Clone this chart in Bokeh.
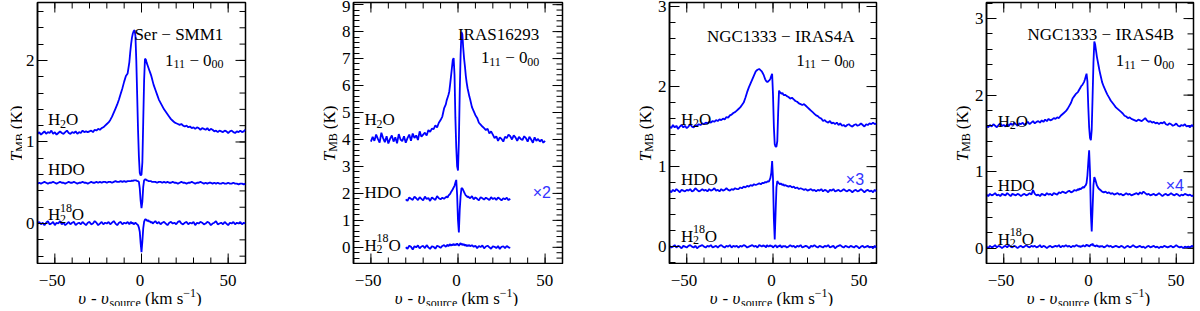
import numpy as np
from bokeh.plotting import figure
from bokeh.layouts import row, column
from bokeh.models import Label, SingleIntervalTicker, Range1d
from bokeh.embed import file_html
from bokeh.resources import INLINE

# ---------------- velocity channels (km/s) ----------------
V_WIDE = np.concatenate([np.arange(-60, -6.5, 1.0), np.arange(-6.5, 7.0, 0.5), np.arange(7, 61, 1.0)])
V_P2_H2O = np.concatenate([np.arange(-50, -6.5, 1.0), np.arange(-6.5, 7.0, 0.5), np.arange(7, 51, 1.0)])
V_P2_NARROW = np.concatenate([np.arange(-30, -6.5, 1.0), np.arange(-6.5, 7.0, 0.5), np.arange(7, 31, 1.0)])

# ---------------- Ser-SMM1 ----------------
SMM1_H2O = [
    1.10, 1.12, 1.09, 1.11, 1.13, 1.10, 1.12, 1.11, 1.14, 1.10,
    1.12, 1.09, 1.11, 1.13, 1.11, 1.10, 1.12, 1.14, 1.11, 1.10,
    1.12, 1.11, 1.13, 1.10, 1.12, 1.11, 1.14, 1.12, 1.13, 1.12,
    1.13, 1.14, 1.12, 1.15, 1.14, 1.16, 1.15, 1.17, 1.18, 1.20,
    1.22, 1.24, 1.27, 1.31, 1.36, 1.41, 1.46, 1.52, 1.59, 1.66,
    1.74, 1.81, 1.84, 1.98,
    2.10, 2.20, 2.28, 2.33, 2.36, 2.37, 2.30, 2.00, 1.58, 1.15, 0.82, 0.62, 0.59, 0.60,
    0.75, 1.25, 1.75, 2.02, 2.01, 1.97, 1.94, 1.91, 1.88, 1.85, 1.82, 1.78, 1.74,
    1.70, 1.64, 1.58, 1.52, 1.48, 1.44, 1.40, 1.37, 1.34, 1.31,
    1.28, 1.26, 1.24, 1.23, 1.22, 1.21, 1.22, 1.20, 1.19, 1.20,
    1.18, 1.19, 1.17, 1.18, 1.16, 1.18, 1.17, 1.15, 1.17, 1.16,
    1.15, 1.17, 1.14, 1.16, 1.15, 1.13, 1.14, 1.12, 1.14, 1.13,
    1.12, 1.14, 1.13, 1.11, 1.13, 1.14, 1.12, 1.11, 1.13, 1.12,
    1.14, 1.12, 1.13, 1.15,
]
SMM1_HDO = [
    0.49, 0.50, 0.49, 0.50, 0.51, 0.50, 0.49, 0.50, 0.50, 0.51,
    0.50, 0.49, 0.50, 0.51, 0.50, 0.50, 0.49, 0.50, 0.51, 0.50,
    0.50, 0.51, 0.50, 0.49, 0.50, 0.50, 0.51, 0.50, 0.50, 0.49,
    0.50, 0.51, 0.50, 0.50, 0.51, 0.50, 0.51, 0.50, 0.51, 0.51,
    0.50, 0.51, 0.51, 0.50, 0.51, 0.52, 0.51, 0.51, 0.52, 0.51,
    0.52, 0.51, 0.52, 0.52,
    0.52, 0.52, 0.53, 0.52, 0.53, 0.53, 0.53, 0.53, 0.52, 0.52, 0.51, 0.43, 0.28, 0.19,
    0.27, 0.45, 0.53, 0.54, 0.54, 0.53, 0.53, 0.52, 0.52, 0.52, 0.52, 0.51, 0.51,
    0.51, 0.51, 0.50, 0.51, 0.51, 0.50, 0.51, 0.50, 0.51, 0.50,
    0.50, 0.51, 0.50, 0.50, 0.49, 0.50, 0.51, 0.50, 0.50, 0.49,
    0.50, 0.50, 0.51, 0.50, 0.49, 0.50, 0.50, 0.51, 0.50, 0.49,
    0.50, 0.49, 0.50, 0.50, 0.49, 0.50, 0.49, 0.50, 0.49, 0.49,
    0.50, 0.49, 0.49, 0.50, 0.49, 0.49, 0.50, 0.49, 0.49, 0.48,
    0.49, 0.49, 0.48, 0.49,
]
SMM1_H218O = [
    0.00, 0.02, -0.01, 0.01, -0.02, 0.01, 0.03, -0.01, 0.00, 0.02,
    -0.02, 0.01, 0.00, 0.03, -0.01, 0.01, -0.02, 0.00, 0.02, -0.01,
    0.01, 0.02, -0.02, 0.00, 0.01, -0.01, 0.02, 0.00, -0.02, 0.01,
    0.02, -0.01, 0.00, 0.03, 0.01, -0.02, 0.00, 0.02, -0.01, 0.01,
    0.00, 0.02, -0.01, 0.01, 0.03, 0.00, -0.02, 0.01, 0.02, -0.01,
    0.01, 0.00, 0.02, -0.01,
    0.01, 0.02, 0.00, 0.01, -0.01, 0.00, 0.01, 0.00, -0.01, -0.02, -0.05, -0.10, -0.24, -0.35,
    -0.22, -0.06, 0.02, 0.05, 0.05, 0.04, 0.03, 0.04, 0.02, 0.03, 0.01, 0.02, 0.00,
    0.01, 0.03, 0.00, 0.02, -0.01, 0.01, 0.02, 0.00, -0.02, 0.01,
    0.02, 0.00, 0.01, -0.01, 0.02, 0.03, 0.00, -0.01, 0.01, 0.02,
    -0.01, 0.01, 0.00, 0.02, -0.02, 0.01, 0.00, 0.02, 0.01, -0.01,
    0.00, 0.02, 0.01, -0.02, 0.00, 0.01, 0.03, -0.01, 0.00, 0.01,
    -0.01, 0.02, 0.00, -0.02, 0.01, 0.00, 0.02, -0.01, 0.01, 0.00,
    0.02, -0.01, 0.01, 0.00,
]

# ---------------- IRAS16293 ----------------
I16293_H2O = [
    3.92, 4.10, 3.95, 4.18, 4.02, 3.88, 4.25, 4.05, 3.90, 4.12,
    3.85, 4.02, 4.15, 3.92, 4.08, 3.86, 4.20, 4.00, 3.94, 4.12,
    3.88, 4.05, 4.18, 3.95, 4.22, 4.06, 4.15, 3.98, 4.30, 4.10,
    4.18, 4.25, 4.15, 4.35, 4.28, 4.40, 4.38, 4.52, 4.45, 4.62,
    4.72, 4.85, 5.15, 5.30,
    5.45, 5.55, 5.65, 5.78, 6.05, 6.35, 6.65, 6.95, 7.02, 6.40, 4.80, 3.70, 3.00, 2.85,
    3.95, 5.75, 7.15, 7.98, 7.90, 7.40, 7.00, 6.70, 6.35, 6.10, 5.90, 5.75, 5.60,
    5.48, 5.20, 5.05, 4.90, 4.80, 4.62, 4.55, 4.48, 4.42, 4.35,
    4.40, 4.22, 4.30, 4.18, 4.05, 4.12, 3.95, 4.08, 4.02, 3.92,
    4.10, 4.05, 4.18, 4.12, 4.00, 4.15, 4.08, 3.95, 4.10, 4.02,
    3.98, 4.12, 4.05, 3.92, 4.10, 4.00, 3.88, 4.08, 3.95, 4.02,
    3.92, 4.00, 3.88, 3.95,
]
I16293_HDO = [
    1.78, 1.72, 1.85, 1.80, 1.76, 1.88, 1.82, 1.75, 1.86, 1.80,
    1.74, 1.88, 1.79, 1.83, 1.72, 1.85, 1.80, 1.76, 1.90, 1.82,
    1.78, 1.84, 1.80, 1.86,
    1.88, 1.84, 1.92, 1.95, 1.98, 2.05, 2.10, 2.15, 2.22, 2.28, 2.40, 2.50, 1.95, 1.00,
    0.55, 1.40, 1.90, 2.20, 2.18, 2.12, 2.05, 1.98, 1.92, 1.90, 1.86, 1.88, 1.84,
    1.82, 1.90, 1.78, 1.85, 1.80, 1.74, 1.86, 1.82, 1.77, 1.84,
    1.80, 1.75, 1.86, 1.79, 1.83, 1.76, 1.85, 1.80, 1.74, 1.82,
    1.78, 1.84, 1.75, 1.80,
]
I16293_H218O = [
    0.00, -0.05, 0.06, 0.02, -0.08, 0.04, 0.00, 0.07, -0.04, 0.03,
    0.05, -0.03, 0.08, 0.00, -0.06, 0.04, 0.02, -0.05, 0.06, 0.03,
    -0.02, 0.05, 0.08, 0.02,
    0.06, 0.10, 0.04, 0.08, 0.12, 0.06, 0.10, 0.08, 0.13, 0.07, 0.11, 0.09, 0.14, 0.10,
    0.06, 0.12, 0.15, 0.09, 0.13, 0.08, 0.12, 0.06, 0.10, 0.04, 0.08, 0.05, 0.09,
    0.04, 0.08, 0.02, 0.06, -0.03, 0.05, 0.01, 0.07, -0.04, 0.03,
    0.06, 0.00, -0.05, 0.04, 0.02, -0.03, 0.05, -0.06, 0.02, 0.04,
    -0.03, 0.05, 0.00, -0.02,
]

# ---------------- NGC1333-IRAS4A ----------------
I4A_H2O = [
    1.50, 1.48, 1.52, 1.49, 1.51, 1.47, 1.50, 1.52, 1.49, 1.51,
    1.48, 1.50, 1.53, 1.50, 1.49, 1.52, 1.51, 1.53, 1.52, 1.54,
    1.53, 1.55, 1.54, 1.56, 1.55, 1.57, 1.56, 1.58, 1.57, 1.59,
    1.58, 1.60, 1.59, 1.62, 1.61, 1.64, 1.65, 1.67, 1.68, 1.70,
    1.72, 1.74, 1.77, 1.80, 1.86, 1.93, 1.99, 2.04, 2.09, 2.14,
    2.19, 2.21, 2.22, 2.20,
    2.19, 2.17, 2.15, 2.12, 2.09, 2.07, 2.06, 2.06, 2.07, 2.08, 2.10, 2.13, 2.16, 1.90,
    1.50, 1.28, 1.25, 1.25, 1.32, 1.68, 1.95, 1.93, 1.92, 1.91, 1.92, 1.90, 1.89,
    1.90, 1.88, 1.87, 1.85, 1.86, 1.84, 1.82, 1.81, 1.79, 1.78,
    1.77, 1.78, 1.76, 1.74, 1.72, 1.70, 1.68, 1.66, 1.64, 1.63,
    1.61, 1.60, 1.57, 1.58, 1.56, 1.55, 1.57, 1.54, 1.55, 1.53,
    1.55, 1.52, 1.54, 1.51, 1.52, 1.50, 1.52, 1.53, 1.51, 1.50,
    1.52, 1.53, 1.51, 1.52, 1.54, 1.52, 1.50, 1.53, 1.52, 1.54,
    1.53, 1.55, 1.53, 1.54,
]
I4A_HDO = [
    0.70, 0.68, 0.71, 0.69, 0.72, 0.70, 0.68, 0.71, 0.70, 0.69,
    0.71, 0.70, 0.72, 0.69, 0.70, 0.73, 0.71, 0.69, 0.70, 0.72,
    0.70, 0.71, 0.69, 0.72, 0.70, 0.71, 0.73, 0.70, 0.71, 0.69,
    0.72, 0.70, 0.71, 0.73, 0.71, 0.70, 0.72, 0.71, 0.73, 0.72,
    0.72, 0.74, 0.73, 0.75, 0.74, 0.76, 0.75, 0.77, 0.76, 0.78,
    0.77, 0.78, 0.79, 0.78,
    0.79, 0.80, 0.79, 0.80, 0.81, 0.80, 0.81, 0.82, 0.81, 0.83, 0.86, 0.92, 1.07, 0.85,
    0.35, 0.09, 0.42, 0.74, 0.82, 0.80, 0.79, 0.78, 0.79, 0.78, 0.77, 0.78, 0.76,
    0.77, 0.76, 0.75, 0.76, 0.74, 0.75, 0.73, 0.74, 0.72, 0.73,
    0.72, 0.71, 0.72, 0.70, 0.71, 0.72, 0.70, 0.71, 0.69, 0.71,
    0.70, 0.72, 0.69, 0.71, 0.70, 0.68, 0.71, 0.70, 0.72, 0.69,
    0.70, 0.71, 0.69, 0.70, 0.72, 0.70, 0.69, 0.71, 0.70, 0.68,
    0.70, 0.71, 0.69, 0.70, 0.72, 0.70, 0.68, 0.70, 0.71, 0.69,
    0.70, 0.68, 0.71, 0.69,
]
I4A_H218O = [
    0.01, -0.01, 0.00, 0.02, -0.01, 0.01, 0.00, -0.02, 0.01, 0.00,
    -0.01, 0.01, 0.02, 0.00, -0.01, 0.01, -0.02, 0.00, 0.01, 0.02,
    0.00, -0.01, 0.01, 0.00, 0.02, -0.01, 0.00, 0.01, -0.01, 0.01,
    0.02, 0.00, -0.01, 0.01, 0.00, 0.02, -0.01, 0.01, 0.00, 0.01,
    -0.01, 0.01, 0.00, 0.02, 0.01, -0.01, 0.00, 0.01, 0.02, 0.00,
    0.01, -0.01, 0.02, 0.01,
    0.00, 0.01, 0.02, 0.00, 0.01, -0.01, 0.02, 0.01, 0.00, 0.01, 0.02, 0.00, 0.01, -0.01,
    0.00, 0.01, 0.02, 0.00, -0.01, 0.01, 0.00, 0.02, 0.01, -0.01, 0.00, 0.01, 0.00,
    0.01, -0.01, 0.00, 0.02, 0.00, 0.01, -0.01, 0.01, 0.00, 0.02,
    -0.01, 0.00, 0.01, 0.00, -0.02, 0.01, 0.00, 0.02, 0.00, -0.01,
    0.01, 0.00, -0.01, 0.01, 0.00, 0.02, -0.01, 0.00, 0.01, -0.02,
    0.00, 0.01, 0.02, 0.00, -0.01, 0.01, 0.00, -0.01, 0.01, 0.00,
    -0.01, 0.01, 0.00, -0.02, 0.00, 0.01, -0.01, 0.00, 0.01, -0.01,
    0.00, -0.02, 0.01, -0.01,
]

# ---------------- NGC1333-IRAS4B ----------------
I4B_H2O = [
    1.60, 1.58, 1.61, 1.59, 1.62, 1.60, 1.58, 1.61, 1.63, 1.60,
    1.61, 1.59, 1.62, 1.60, 1.63, 1.61, 1.64, 1.62, 1.60, 1.63,
    1.62, 1.64, 1.61, 1.63, 1.65, 1.62, 1.64, 1.66, 1.63, 1.65,
    1.66, 1.64, 1.67, 1.65, 1.68, 1.66, 1.69, 1.67, 1.68, 1.70,
    1.69, 1.71, 1.70, 1.73, 1.75, 1.77, 1.79, 1.82, 1.86, 1.90,
    1.96, 1.99, 2.02, 2.04,
    2.06, 2.08, 2.10, 2.12, 2.13, 2.15, 2.17, 2.20, 2.24, 2.28, 2.18, 1.85, 1.58, 1.44,
    1.41, 1.55, 1.98, 2.42, 2.70, 2.66, 2.58, 2.50, 2.44, 2.38, 2.32, 2.27, 2.22,
    2.17, 2.11, 2.06, 2.01, 1.97, 1.93, 1.90, 1.87, 1.84, 1.82,
    1.80, 1.78, 1.76, 1.73, 1.72, 1.70, 1.71, 1.69, 1.68, 1.67,
    1.66, 1.68, 1.67, 1.66, 1.68, 1.70, 1.67, 1.65, 1.66, 1.64,
    1.65, 1.63, 1.64, 1.62, 1.64, 1.63, 1.65, 1.62, 1.61, 1.63,
    1.62, 1.60, 1.61, 1.63, 1.60, 1.59, 1.61, 1.60, 1.62, 1.59,
    1.60, 1.58, 1.61, 1.59,
]
I4B_HDO = [
    0.70, 0.68, 0.71, 0.69, 0.70, 0.72, 0.69, 0.70, 0.68, 0.71,
    0.70, 0.69, 0.72, 0.70, 0.68, 0.71, 0.70, 0.69, 0.71, 0.70,
    0.68, 0.70, 0.71, 0.69, 0.70, 0.72, 0.70, 0.76, 0.71, 0.69,
    0.70, 0.68, 0.71, 0.70, 0.69, 0.72, 0.70, 0.71, 0.69, 0.72,
    0.71, 0.70, 0.73, 0.72, 0.74, 0.73, 0.72, 0.74, 0.75, 0.73,
    0.74, 0.76, 0.75, 0.77,
    0.76, 0.78, 0.77, 0.78, 0.79, 0.80, 0.79, 0.81, 0.82, 0.85, 0.95, 1.12, 1.28, 1.00,
    0.45, 0.22, 0.52, 0.82, 0.93, 0.90, 0.86, 0.82, 0.80, 0.78, 0.77, 0.76, 0.75,
    0.74, 0.73, 0.74, 0.72, 0.73, 0.71, 0.72, 0.70, 0.71, 0.72,
    0.70, 0.71, 0.69, 0.70, 0.72, 0.70, 0.71, 0.69, 0.70, 0.71,
    0.72, 0.70, 0.73, 0.71, 0.74, 0.72, 0.70, 0.71, 0.69, 0.70,
    0.71, 0.69, 0.70, 0.72, 0.70, 0.68, 0.70, 0.71, 0.69, 0.70,
    0.72, 0.70, 0.69, 0.71, 0.70, 0.68, 0.70, 0.69, 0.71, 0.70,
    0.69, 0.70, 0.68, 0.69,
]
I4B_H218O = [
    0.02, 0.00, 0.03, 0.01, 0.02, 0.04, 0.01, 0.03, 0.02, 0.00,
    0.02, 0.03, 0.01, 0.04, 0.02, 0.01, 0.03, 0.02, 0.00, 0.02,
    0.03, 0.01, 0.02, 0.04, 0.02, 0.01, 0.03, 0.02, 0.03, 0.01,
    0.02, 0.04, 0.01, 0.03, 0.02, 0.00, 0.02, 0.03, 0.01, 0.02,
    0.03, 0.02, 0.04, 0.01, 0.03, 0.02, 0.04, 0.02, 0.03, 0.01,
    0.03, 0.02, 0.04, 0.03,
    0.02, 0.03, 0.01, 0.03, 0.02, 0.04, 0.03, 0.02, 0.03, 0.05, 0.03, 0.04, 0.02, 0.03,
    0.05, 0.04, 0.06, 0.03, 0.04, 0.02, 0.03, 0.04, 0.02, 0.03, 0.01, 0.03, 0.02,
    0.03, 0.01, 0.02, 0.04, 0.02, 0.03, 0.01, 0.02, 0.03, 0.02,
    0.01, 0.03, 0.02, 0.00, 0.02, 0.03, 0.01, 0.02, 0.04, 0.02,
    0.01, 0.02, 0.03, 0.01, 0.02, 0.00, 0.02, 0.03, 0.01, 0.02,
    0.03, 0.01, 0.02, 0.00, 0.02, 0.01, 0.03, 0.02, 0.01, 0.02,
    0.03, 0.01, 0.02, 0.04, 0.02, 0.01, 0.02, 0.00, 0.02, 0.01,
    0.02, 0.01, 0.03, 0.02,
]

SOURCES = ["Ser − SMM1", "IRAS16293", "NGC1333 − IRAS4A", "NGC1333 − IRAS4B"]
SCALE_NOTES = [None, "×2", "×3", "×4"]
X_TICK_LABELS = {-50: "−50", 0: "0", 50: "50"}

SPECTRA = [
    [(V_WIDE, SMM1_H2O), (V_WIDE, SMM1_HDO), (V_WIDE, SMM1_H218O)],
    [(V_P2_H2O, I16293_H2O), (V_P2_NARROW, I16293_HDO), (V_P2_NARROW, I16293_H218O)],
    [(V_WIDE, I4A_H2O), (V_WIDE, I4A_HDO), (V_WIDE, I4A_H218O)],
    [(V_WIDE, I4B_H2O), (V_WIDE, I4B_HDO), (V_WIDE, I4B_H218O)],
]
for group in SPECTRA:
    for vv, tt in group:
        assert len(vv) == len(tt), (len(vv), len(tt))

# ---------------- layout / style (not data) ----------------
FONT = "Liberation Serif"
MAIN = 17
SMALL = 12
BLUE = "#0000ff"

PANELS = [
    dict(y=(-0.49, 2.71), yt=22, ybase=16, fw=211, br=67,
         title=(47.2, 2.32), trans=(47.2, 2.0), mol=(-54.0, [1.27, 0.66, 0.11]), note=None),
    dict(y=(-0.6, 9.08), yt=26, ybase=17, fw=212, br=66,
         title=(46.6, 7.89), trans=(46.6, 7.03), mol=(-53.7, [4.73, 2.04, 0.07]), note=(53.4, 2.04)),
    dict(y=(-0.21, 3.05), yt=26, ybase=17, fw=210, br=69,
         title=(47.2, 2.63), trans=(47.2, 2.33), mol=(-53.4, [1.59, 0.84, 0.13]), note=(52.8, 0.84)),
    dict(y=(-0.20, 3.21), yt=26, ybase=17, fw=210, br=2,
         title=(48.7, 2.79), trans=(48.7, 2.45), mol=(-53.5, [1.66, 0.82, 0.12]), note=(54.5, 0.82)),
]
TOTAL_H = 306
TOP = 2          # frame top
FH = 261         # frame height
BB = 1
H1 = TOP + FH + BB
BL = 12          # room for y tick labels
X0, X1 = -60, 60

ADV = {' ': 250, '(': 333, ')': 333, '-': 333, '−': 564, '×': 564, 'k': 500, 'm': 778,
       's': 389, 'o': 500, 'u': 500, 'r': 333, 'c': 444, 'e': 444, 'υ': 500, 'T': 556,
       'M': 889, 'B': 667, 'K': 722, 'H': 722, 'D': 722, 'O': 722}


def tw(s, size):
    return sum(ADV.get(c, 500) for c in s) * size / 1000.0


class Frame:
    def __init__(self, x0, x1, y0, y1, fw, fh):
        self.x0, self.x1, self.y0, self.y1, self.fw, self.fh = x0, x1, y0, y1, fw, fh

    def to_data(self, px, py):
        return (self.x0 + px * (self.x1 - self.x0) / self.fw,
                self.y1 - py * (self.y1 - self.y0) / self.fh)

    def to_px(self, x, y):
        return ((x - self.x0) * self.fw / (self.x1 - self.x0),
                (self.y1 - y) * self.fh / (self.y1 - self.y0))


def put_runs(p, fr, px, py, parts, color="black", vertical=False, font=FONT):
    """parts: (text, size, shift_px (+ = down), style[, advance])"""
    cx, cy = px, py
    for part in parts:
        text, size, shift, style = part[:4]
        adv = part[4] if len(part) > 4 else tw(text, size)
        body = text.strip()
        lead = tw(text[:len(text) - len(text.lstrip())], size)
        if not vertical:
            x, y = fr.to_data(cx + lead, cy + shift)
            ang = 0.0
            cx += adv
        else:
            x, y = fr.to_data(cx + shift, cy - lead)
            ang = np.pi / 2
            cy -= adv
        p.add_layout(Label(x=x, y=y, text=body, text_font=font, text_font_size=f"{size}px",
                           text_font_style=style, text_color=color, text_align="left",
                           text_baseline="alphabetic", angle=ang))


def blank_fig(w, h):
    f = figure(width=w, height=h, x_range=Range1d(0, w), y_range=Range1d(0, h), title=None,
               x_axis_type=None, y_axis_type=None, toolbar_location=None, output_backend="svg",
               min_border=0, min_border_left=0, min_border_right=0,
               min_border_top=0, min_border_bottom=0)
    f.outline_line_color = None
    f.background_fill_color = "white"
    f.border_fill_color = "white"
    return f


columns = []
for i, cfg in enumerate(PANELS):
    y0, y1 = cfg["y"]
    fw = cfg["fw"]
    ytw = cfg["yt"]
    pw = BL + fw + cfg["br"]
    fr = Frame(X0, X1, y0, y1, fw, FH)
    p = figure(width=pw, height=H1, output_backend="svg", toolbar_location=None, title=None,
               x_range=Range1d(X0, X1), y_range=Range1d(y0, y1),
               min_border_left=BL, min_border_right=cfg["br"],
               min_border_top=TOP, min_border_bottom=BB)
    p.background_fill_color = "white"
    p.border_fill_color = "white"
    p.outline_line_color = "black"
    p.outline_line_width = 1.5
    p.xgrid.visible = False
    p.ygrid.visible = False
    p.xaxis.visible = False

    ax = p.yaxis[0]
    ax.ticker = SingleIntervalTicker(interval=1, num_minor_ticks=5)
    ax.axis_line_color = "black"
    ax.axis_line_width = 1.5
    ax.major_tick_line_color = "black"
    ax.minor_tick_line_color = "black"
    ax.major_tick_in = 10
    ax.major_tick_out = 0
    ax.minor_tick_in = 6
    ax.minor_tick_out = 0
    ax.axis_label = None
    ax.major_label_text_font = FONT
    ax.major_label_text_font_size = "17px"
    ax.major_label_text_color = "black"
    ax.major_label_standoff = 3

    # ticks on top, bottom and right edges (pointing inwards)
    x_minor = np.arange(X0, X1 + 0.1, 10.0)
    x_major = np.array(sorted(X_TICK_LABELS.keys()), dtype=float)
    for yy, ang in ((y1, -np.pi / 2), (y0, np.pi / 2)):
        p.ray(x=x_minor, y=yy, length=6, length_units="screen", angle=ang,
              line_color="black", line_width=1)
        p.ray(x=x_major, y=yy, length=10, length_units="screen", angle=ang,
              line_color="black", line_width=1)
    r_minor = np.arange(np.ceil(y0 * 5) / 5, y1 + 1e-9, 0.2)
    r_major = np.arange(np.ceil(y0), y1 + 1e-9, 1.0)
    p.ray(x=X1, y=r_minor, length=6, length_units="screen", angle=np.pi,
          line_color="black", line_width=1)
    p.ray(x=X1, y=r_major, length=10, length_units="screen", angle=np.pi,
          line_color="black", line_width=1)

    for vv, tt in SPECTRA[i]:
        p.line(vv, tt, line_color=BLUE, line_width=1.8)

    # source name (right aligned)
    p.add_layout(Label(x=cfg["title"][0], y=cfg["title"][1], text=SOURCES[i],
                       text_font=FONT, text_font_size=f"{MAIN}px", text_align="right",
                       text_baseline="alphabetic", text_color="black"))

    # transition 1_11 - 0_00 (right aligned)
    trans = [("1", MAIN, 0, "normal"), ("11", SMALL, 4, "normal"), (" − ", MAIN, 0, "normal"),
             ("0", MAIN, 0, "normal"), ("00", SMALL, 4, "normal")]
    total = sum(tw(t[0], t[1]) for t in trans)
    rx, ry = fr.to_px(*cfg["trans"])
    put_runs(p, fr, rx - total, ry, trans)

    # molecule labels
    mx = cfg["mol"][0]
    ys = cfg["mol"][1]
    px_, py_ = fr.to_px(mx, ys[0])
    put_runs(p, fr, px_, py_, [("H", MAIN, 0, "normal"), ("2", SMALL, 4, "normal"), ("O", MAIN, 0, "normal")])
    px_, py_ = fr.to_px(mx, ys[1])
    put_runs(p, fr, px_, py_, [("HDO", MAIN, 0, "normal")])
    px_, py_ = fr.to_px(mx, ys[2])
    put_runs(p, fr, px_, py_, [("H", MAIN, 0, "normal"), ("2", SMALL, 4, "normal", 0),
                               ("18", SMALL, -7, "normal"), ("O", MAIN, 0, "normal")])

    if cfg["note"] is not None:
        p.add_layout(Label(x=cfg["note"][0], y=cfg["note"][1], text=SCALE_NOTES[i],
                           text_font="Liberation Sans", text_font_size="16px", text_align="right",
                           text_baseline="alphabetic", text_color="#3333ff"))

    # vertical axis title strip
    yt = blank_fig(ytw, H1)
    yfr = Frame(0, ytw, 0, H1, ytw, H1)
    ylab = [("T", MAIN, 0, "italic"), ("MB", SMALL, 3, "normal"), (" (K)", MAIN, 0, "normal")]
    ylen = sum(tw(t[0], t[1]) for t in ylab)
    put_runs(yt, yfr, cfg["ybase"], TOP + FH / 2 + ylen / 2, ylab, vertical=True)

    # strip below: x tick labels and x-axis title
    xw = ytw + pw
    xh = TOTAL_H - H1
    xt = blank_fig(xw, xh)
    xfr = Frame(0, xw, 0, xh, xw, xh)
    for tv, tl in X_TICK_LABELS.items():
        tx = ytw + BL + (tv - X0) * fw / (X1 - X0)
        lx, ly = xfr.to_data(tx, 15.5)
        xt.add_layout(Label(x=lx, y=ly, text=tl, text_font=FONT, text_font_size=f"{MAIN}px",
                            text_align="center", text_baseline="alphabetic", text_color="black"))
    xlab = [("υ", MAIN, 0, "italic"), (" - ", MAIN, 0, "normal"), ("υ", MAIN, 0, "italic"),
            ("source", SMALL, 4, "normal"), (" (km s", MAIN, 0, "normal"),
            ("−1", SMALL, -6, "normal"), (")", MAIN, 0, "normal")]
    xlen = sum(tw(t[0], t[1]) for t in xlab)
    put_runs(xt, xfr, ytw + BL + fw / 2 - xlen / 2, 34, xlab)

    columns.append(column(row(yt, p, spacing=0), xt, spacing=0))

layout = row(*columns, spacing=0)
open("out.html", "w").write(file_html(layout, INLINE))
